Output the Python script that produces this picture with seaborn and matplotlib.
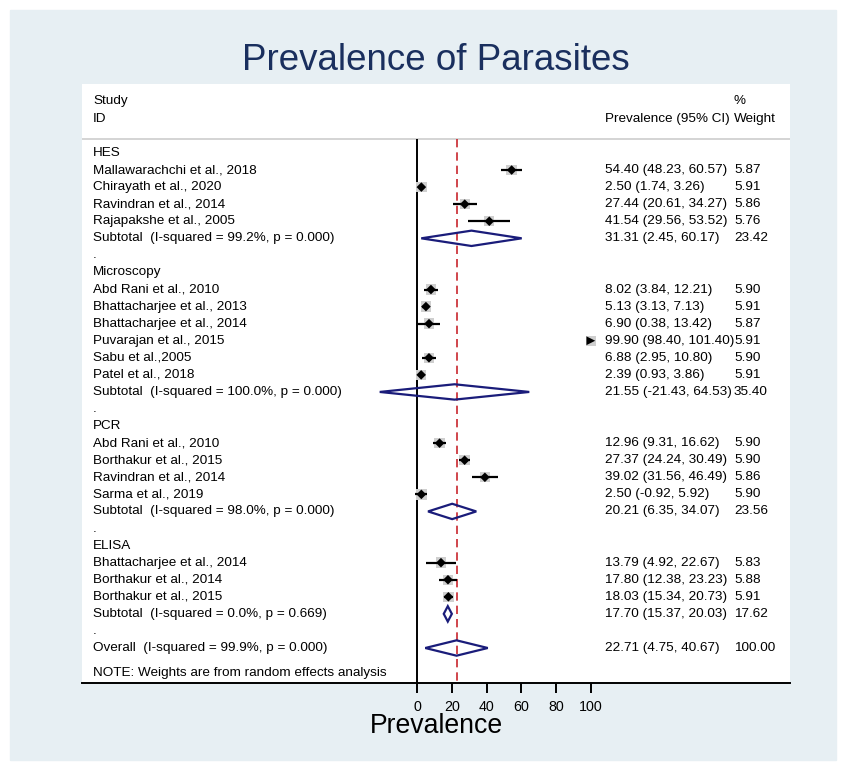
import numpy as np
import pandas as pd
import matplotlib.pyplot as plt
from matplotlib.patches import Polygon, Rectangle
import seaborn as sns

# Data
groups = ["HES", "Microscopy", "PCR", "ELISA"]

study_group = ["HES"] * 4 + ["Microscopy"] * 6 + ["PCR"] * 4 + ["ELISA"] * 3
study_names = [
    "Mallawarachchi et al., 2018", "Chirayath et al., 2020",
    "Ravindran et al., 2014", "Rajapakshe et al., 2005",
    "Abd Rani et al., 2010", "Bhattacharjee et al., 2013",
    "Bhattacharjee et al., 2014", "Puvarajan et al., 2015",
    "Sabu et al.,2005", "Patel et al., 2018",
    "Abd Rani et al., 2010", "Borthakur et al., 2015",
    "Ravindran et al., 2014", "Sarma et al., 2019",
    "Bhattacharjee et al., 2014", "Borthakur et al., 2014",
    "Borthakur et al., 2015",
]
study_est = [54.40, 2.50, 27.44, 41.54,
             8.02, 5.13, 6.90, 99.90, 6.88, 2.39,
             12.96, 27.37, 39.02, 2.50,
             13.79, 17.80, 18.03]
study_lo = [48.23, 1.74, 20.61, 29.56,
            3.84, 3.13, 0.38, 98.40, 2.95, 0.93,
            9.31, 24.24, 31.56, -0.92,
            4.92, 12.38, 15.34]
study_hi = [60.57, 3.26, 34.27, 53.52,
            12.21, 7.13, 13.42, 101.40, 10.80, 3.86,
            16.62, 30.49, 46.49, 5.92,
            22.67, 23.23, 20.73]
study_weight = [5.87, 5.91, 5.86, 5.76,
                5.90, 5.91, 5.87, 5.91, 5.90, 5.91,
                5.90, 5.90, 5.86, 5.90,
                5.83, 5.88, 5.91]

sub_isq = ["99.2%", "100.0%", "98.0%", "0.0%"]
sub_p = ["0.000", "0.000", "0.000", "0.669"]
sub_est = [31.31, 21.55, 20.21, 17.70]
sub_lo = [2.45, -21.43, 6.35, 15.37]
sub_hi = [60.17, 64.53, 34.07, 20.03]
sub_weight = [23.42, 35.40, 23.56, 17.62]

overall_isq, overall_p = "99.9%", "0.000"
overall_est, overall_lo, overall_hi, overall_weight = 22.71, 4.75, 40.67, 100.00

x_ticks = [0, 20, 40, 60, 80, 100]
x_max = 100

# build row layout
studies = pd.DataFrame({"group": study_group, "name": study_names, "est": study_est,
                        "lo": study_lo, "hi": study_hi, "weight": study_weight})
rows = []
y = 0
for gi, g in enumerate(groups):
    rows.append({"kind": "group", "label": g, "y": y})
    y += 1
    for _, r in studies[studies["group"] == g].iterrows():
        rows.append({"kind": "study", "label": r["name"], "y": y, "est": r["est"],
                     "lo": r["lo"], "hi": r["hi"], "weight": r["weight"]})
        y += 1
    rows.append({"kind": "sub", "label": f"Subtotal  (I-squared = {sub_isq[gi]}, p = {sub_p[gi]})",
                 "y": y, "est": sub_est[gi], "lo": sub_lo[gi], "hi": sub_hi[gi], "weight": sub_weight[gi]})
    y += 1
    rows.append({"kind": "dot", "label": ".", "y": y})
    y += 1
rows.append({"kind": "sub", "label": f"Overall  (I-squared = {overall_isq}, p = {overall_p})",
             "y": y, "est": overall_est, "lo": overall_lo, "hi": overall_hi, "weight": overall_weight})
df = pd.DataFrame(rows)
st = df[df["kind"] == "study"].reset_index(drop=True)
sb = df[df["kind"] == "sub"].reset_index(drop=True)

sns.set_style("white")
plt.rcParams["font.family"] = ["Liberation Sans", "DejaVu Sans"]
plt.rcParams["text.color"] = "black"
plt.rcParams["xtick.color"] = "black"

fig = plt.figure(figsize=(8.41, 7.65), dpi=100)
fig.patches.append(Rectangle((10 / 841, 5 / 765), 826 / 841, 750 / 765,
                             transform=fig.transFigure, color="#e7eff3", zorder=-5))
ax = fig.add_axes([82 / 841, 1 - 683 / 765, 708 / 841, 599 / 765])
ax.set_zorder(2)
ax.set_facecolor("white")

px = 1.74  # pixels per unit
ax.set_xlim((82 - 417) / px, (790 - 417) / px)
ax.set_ylim(31.05, -4.04)
top_line = -0.82

fs = 9.7
ink = "black"
navy = "#1a1c7a"

# header
ax.axhline(top_line, color="#cdcdcd", lw=1.2)
x_lab = (93 - 417) / px
x_ci = (605 - 417) / px
x_w = (734 - 417) / px
ax.text(x_lab, -3.05, "Study", fontsize=fs, va="center")
ax.text(x_lab, -1.99, "ID", fontsize=fs, va="center")
ax.text(x_w, -3.05, "%", fontsize=fs, va="center")
ax.text(x_ci, -1.99, "Prevalence (95% CI)", fontsize=fs, va="center")
ax.text(x_w, -1.99, "Weight", fontsize=fs, va="center")

# reference lines
ax.vlines(0, top_line, 31.05, color=ink, lw=1.4)
ax.vlines(overall_est, top_line, 31.05, color="#c8262d", lw=1.2, linestyles=(0, (5, 3)))

# study CIs and boxes
in_range = st["hi"] <= x_max
ax.hlines(st["y"], st["lo"], np.minimum(st["hi"], x_max), color=ink, lw=1.6, zorder=3)
sns.scatterplot(data=st, x="est", y="y", marker="s", s=st["weight"] * 9.5,
                color="#cfcfcf", edgecolor="none", legend=False, ax=ax, zorder=2)
sns.scatterplot(data=st[in_range], x="est", y="y", marker="D", s=24,
                color=ink, edgecolor="none", legend=False, ax=ax, zorder=4)
sns.scatterplot(data=st[~in_range], x="est", y="y", marker=">", s=40,
                color=ink, edgecolor="none", legend=False, ax=ax, zorder=4)

# pooled diamonds
h = 0.45
for _, r in sb.iterrows():
    ax.add_patch(Polygon([(r["lo"], r["y"]), (r["est"], r["y"] - h),
                          (r["hi"], r["y"]), (r["est"], r["y"] + h)],
                         closed=True, fill=False, edgecolor=navy, lw=1.6, zorder=3))

# text columns
for _, r in df.iterrows():
    ax.text(x_lab, r["y"], r["label"], fontsize=fs, va="center")
    if r["kind"] in ("study", "sub"):
        ax.text(x_ci, r["y"], f"{r['est']:.2f} ({r['lo']:.2f}, {r['hi']:.2f})", fontsize=fs, va="center")
        ax.text(x_w, r["y"], f"{r['weight']:.2f}", fontsize=fs, va="center")
ax.text(x_lab, 30.46, "NOTE: Weights are from random effects analysis", fontsize=fs, va="center")

# axes styling
for side in ["top", "left", "right"]:
    ax.spines[side].set_visible(False)
ax.spines["bottom"].set_color(ink)
ax.spines["bottom"].set_linewidth(1.4)
ax.set_xticks(x_ticks)
ax.set_xticklabels([str(t) for t in x_ticks])
ax.set_yticks([])
ax.tick_params(axis="x", length=7.5, width=1.4, pad=5, labelsize=10.3, color=ink, bottom=True)
ax.set_xlabel("")
ax.set_ylabel("")

fig.text(436 / 841, 1 - 60 / 765, "Prevalence of Parasites", fontsize=26.5,
         color="#1a2f5e", ha="center", va="center")
fig.text(436 / 841, 1 - 726 / 765, "Prevalence", fontsize=19.2, ha="center", va="center")

fig.savefig("out.png", dpi=100)
